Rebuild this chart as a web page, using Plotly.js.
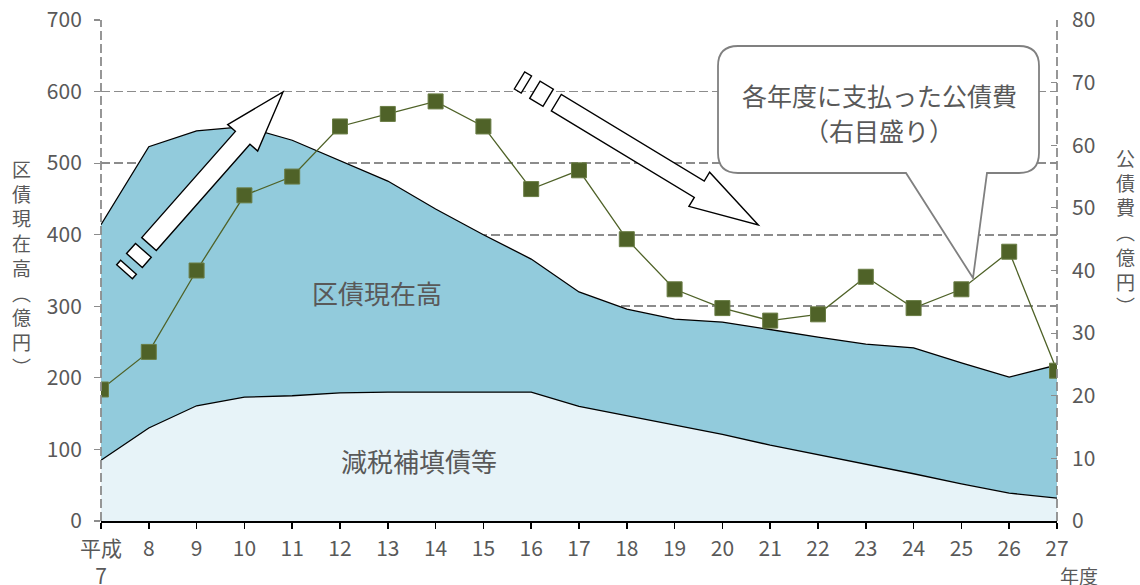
<!DOCTYPE html>
<html>
<head>
<meta charset="utf-8">
<script src="https://cdn.plot.ly/plotly-3.0.1.min.js"></script>
<style>html,body{margin:0;padding:0;background:#fff;}#chart{width:1140px;height:585px;}</style>
</head>
<body>
<div id="chart"></div>
<script>
// ---- data ----
const years = ['平成7','8','9','10','11','12','13','14','15','16','17','18','19','20','21','22','23','24','25','26','27'];
const yearLabels = ['平成<br>7','8','9','10','11','12','13','14','15','16','17','18','19','20','21','22','23','24','25','26','27'];
const debtTotal = [414,523,545,551,532,504,475,436,400,366,320,296,282,278,267,257,247,242,221,201,218];
const genzeiDebt = [85,130,161,173,175,179,180,180,179,180,160,147,134,121,106,93,80,66,52,39,32];
const bondCost = [21,27,40,52,55,63,65,67,63,53,56,45,37,34,32,33,39,34,37,43,24];
const leftTitleChars = ['区','債','現','在','高','︵','億','円','︶'];
const rightTitleChars = ['公','債','費','︵','億','円','︶'];

// ---- geometry helpers (pixel -> paper) ----
const L = 101, R = 1057, T = 20, B = 521;
function px(x) { return (x - L) / (R - L); }
function py(y) { return (B - y) / (B - T); }
function P(x, y) { return px(x).toFixed(5) + ',' + py(y).toFixed(5); }
function poly(pts) { return 'M' + pts.map(p => P(p[0], p[1])).join('L') + 'Z'; }
function blockArrow(S, Tp, w, h, Lh, blocks) {
  const dx = Tp[0] - S[0], dy = Tp[1] - S[1], len = Math.hypot(dx, dy);
  const u = [dx / len, dy / len], n = [-u[1], u[0]];
  const at = (t, s) => [S[0] + u[0] * t + n[0] * s, S[1] + u[1] * t + n[1] * s];
  const b = len - Lh;
  const out = [poly([at(0, w), at(b, w), at(b, h), Tp, at(b, -h), at(b, -w), at(0, -w)])];
  blocks.forEach(bl => out.push(poly([at(bl[0], bl[2]), at(bl[1], bl[2]), at(bl[1], -bl[2]), at(bl[0], -bl[2])])));
  return out;
}
const arrowStyle = {type: 'path', xref: 'paper', yref: 'paper', fillcolor: '#ffffff', line: {color: '#000000', width: 1.4}, layer: 'above'};
const shapes = [];
blockArrow([149, 244], [283, 92], 9.7, 20, 61, [[-22, -8.5, 10.5], [-37, -31, 10.5]]).forEach(p => shapes.push(Object.assign({path: p}, arrowStyle)));
blockArrow([556.3, 102.7], [758.3, 225], 9.6, 20, 69, [[-25, -9.5, 10], [-43, -35, 10]]).forEach(p => shapes.push(Object.assign({path: p}, arrowStyle)));

// callout box
const cl = 718, cr = 1039, ct = 46, cb = 173, r = 20;
const callPath = 'M' + P(cl + r, ct) + 'L' + P(cr - r, ct) + 'Q' + P(cr, ct) + ' ' + P(cr, ct + r) +
  'L' + P(cr, cb - r) + 'Q' + P(cr, cb) + ' ' + P(cr - r, cb) +
  'L' + P(987, cb) + 'L' + P(973, 278) + 'L' + P(906, cb) +
  'L' + P(cl + r, cb) + 'Q' + P(cl, cb) + ' ' + P(cl, cb - r) +
  'L' + P(cl, ct + r) + 'Q' + P(cl, ct) + ' ' + P(cl + r, ct) + 'Z';
shapes.push({type: 'path', xref: 'paper', yref: 'paper', path: callPath, fillcolor: '#ffffff', line: {color: '#808080', width: 1.8}, layer: 'above'});

// dashed left/right borders
shapes.push({type: 'line', xref: 'paper', yref: 'paper', x0: 0, x1: 0, y0: 0, y1: 1, line: {color: '#8c8c8c', width: 1.8, dash: '9px,4px'}, layer: 'above'});
shapes.push({type: 'line', xref: 'paper', yref: 'paper', x0: 1, x1: 1, y0: 0, y1: 1, line: {color: '#8c8c8c', width: 1.8, dash: '9px,4px'}, layer: 'above'});

const font = '"Noto Sans CJK JP", "Noto Sans", sans-serif';
const gray = '#595959';

const traces = [
  {x: years, y: debtTotal, type: 'scatter', mode: 'lines', fill: 'tozeroy', fillcolor: '#92CBDC',
   line: {color: '#000000', width: 1.3}, hoverinfo: 'skip', name: '区債現在高'},
  {x: years, y: genzeiDebt, type: 'scatter', mode: 'lines', fill: 'tozeroy', fillcolor: '#E7F3F8',
   line: {color: '#000000', width: 1.3}, hoverinfo: 'skip', name: '減税補填債等'},
  {x: years, y: bondCost, type: 'scatter', mode: 'lines+markers', yaxis: 'y2',
   line: {color: '#4F6228', width: 1.3},
   marker: {symbol: 'square', size: 15, color: '#4F6228', line: {color: '#6a7d45', width: 1}},
   name: '公債費'}
];

function ann(text, x, y, size, extra) {
  return Object.assign({text: text, xref: 'paper', yref: 'paper', x: px(x), y: py(y), xanchor: 'center', yanchor: 'middle',
    showarrow: false, font: {size: size, color: gray}, align: 'center'}, extra || {});
}

const annotations = [
  ann('区債現在高', 377, 292, 26),
  ann('減税補填債等', 419, 460, 26),
  ann('各年度に支払った公債費', 879, 95, 25),
  ann('（右目盛り）', 879, 130, 25),
  ann('年度', 1079, 575, 19),
  ann(leftTitleChars.join('<br>'), 21, 267, 19),
  ann(rightTitleChars.join('<br>'), 1125, 231, 19)
];

const layout = {
  width: 1140, height: 585,
  margin: {l: 101, r: 83, t: 20, b: 64},
  paper_bgcolor: '#ffffff', plot_bgcolor: '#ffffff',
  showlegend: false,
  font: {family: font, color: gray, size: 21},
  xaxis: {
    type: 'category', range: [0, 20], tickmode: 'array', tickvals: years, ticktext: yearLabels,
    showline: true, linecolor: '#000000', linewidth: 2, ticks: 'outside', ticklen: 6, tickwidth: 1.5, tickcolor: '#000000',
    showgrid: false, zeroline: false, tickfont: {size: 21, color: gray}, ticklabelstandoff: 2
  },
  yaxis: {
    range: [0, 700], dtick: 100, showgrid: true, gridcolor: '#8c8c8c', gridwidth: 1.8, griddash: '9px,4px',
    ticks: 'outside', ticklen: 6, tickcolor: '#8c8c8c', tickwidth: 1.2, zeroline: false, showline: false,
    tickfont: {size: 21, color: gray}, ticklabelstandoff: 8
  },
  yaxis2: {
    overlaying: 'y', side: 'right', range: [0, 80], dtick: 10, showgrid: false, zeroline: false, showline: false,
    ticks: 'inside', ticklen: 6, tickcolor: '#8c8c8c', tickwidth: 1.2,
    tickfont: {size: 21, color: gray}, ticklabelstandoff: 14
  },
  shapes: shapes,
  annotations: annotations
};

Plotly.newPlot('chart', traces, layout, {displayModeBar: false, staticPlot: true});
</script>
</body>
</html>
